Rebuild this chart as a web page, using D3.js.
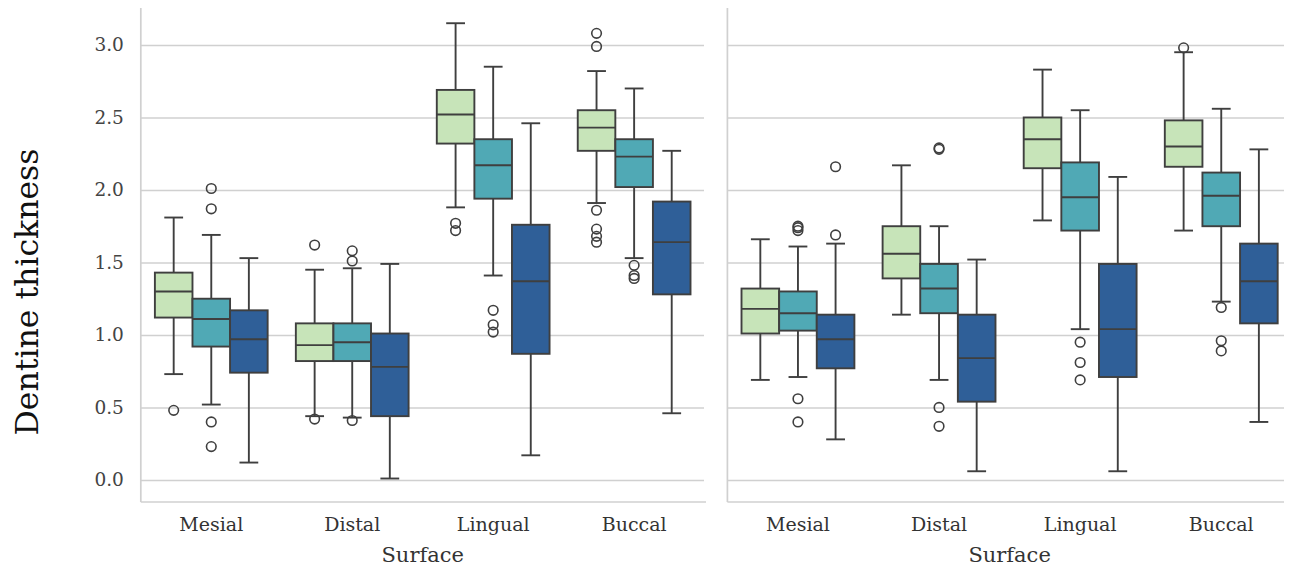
<!DOCTYPE html>
<html>
<head>
<meta charset="utf-8">
<script src="https://cdn.jsdelivr.net/npm/d3@7"></script>
<style>
  body { margin: 0; background: #fff; }
  svg text { font-family: "DejaVu Serif", "Liberation Serif", serif; }
</style>
</head>
<body>
<script>
// categories on the x axis and the three hue levels inside each group
var surfaces = ["Mesial", "Distal", "Lingual", "Buccal"];
var levels = ["1", "2", "3"];
var yTicks = [0, 0.5, 1.0, 1.5, 2.0, 2.5, 3.0];

// box stats per surface x level: [whisker low, q1, median, q3, whisker high]
var leftBoxes = [
    [0.73, 1.12, 1.30, 1.43, 1.81], [0.52, 0.92, 1.11, 1.25, 1.69], [0.12, 0.74, 0.97, 1.17, 1.53],
    [0.44, 0.82, 0.93, 1.08, 1.45], [0.43, 0.82, 0.95, 1.08, 1.46], [0.01, 0.44, 0.78, 1.01, 1.49],
    [1.88, 2.32, 2.52, 2.69, 3.15], [1.41, 1.94, 2.17, 2.35, 2.85], [0.17, 0.87, 1.37, 1.76, 2.46],
    [1.91, 2.27, 2.43, 2.55, 2.82], [1.53, 2.02, 2.23, 2.35, 2.70], [0.46, 1.28, 1.64, 1.92, 2.27]
];
var leftOutliers = [
    [0.48], [2.01, 1.87, 0.40, 0.23], [],
    [1.62, 0.42], [1.58, 1.51, 0.41], [],
    [1.77, 1.72], [1.17, 1.07, 1.02], [],
    [3.08, 2.99, 1.86, 1.73, 1.68, 1.64], [1.48, 1.41, 1.39], []
];
var rightBoxes = [
    [0.69, 1.01, 1.18, 1.32, 1.66], [0.71, 1.03, 1.15, 1.30, 1.61], [0.28, 0.77, 0.97, 1.14, 1.63],
    [1.14, 1.39, 1.56, 1.75, 2.17], [0.69, 1.15, 1.32, 1.49, 1.75], [0.06, 0.54, 0.84, 1.14, 1.52],
    [1.79, 2.15, 2.35, 2.50, 2.83], [1.04, 1.72, 1.95, 2.19, 2.55], [0.06, 0.71, 1.04, 1.49, 2.09],
    [1.72, 2.16, 2.30, 2.48, 2.95], [1.23, 1.75, 1.96, 2.12, 2.56], [0.40, 1.08, 1.37, 1.63, 2.28]
];
var rightOutliers = [
    [], [1.75, 1.74, 1.72, 0.56, 0.40], [2.16, 1.69],
    [], [2.29, 2.28, 0.50, 0.37], [],
    [], [0.95, 0.81, 0.69], [],
    [2.98], [1.19, 0.96, 0.89], []
];
var colors = ["#c7e4b9", "#50a9b5", "#2f5f98"];

var w = 1292, h = 571;
var topY = 8, bottomY = 502;
var ink = "#3f3f3f", gridColor = "#d0d0d0";

var svg = d3.select("body").append("svg")
    .attr("width", w)
    .attr("height", h);

var yScale = d3.scaleLinear()
    .domain([-0.152, 3.255])
    .range([bottomY, topY]);

var panels = [
    { x0: 140.8, x1: 704.6, gridEnd: 704, spineEnd: 706, boxes: leftBoxes, outliers: leftOutliers, labels: true },
    { x0: 727.4, x1: 1291.8, gridEnd: 1284, spineEnd: 1284, boxes: rightBoxes, outliers: rightOutliers, labels: false }
];

panels.forEach(function(p) {
    var xScale = d3.scaleBand().domain(surfaces).range([p.x0, p.x1]);
    var inner = d3.scaleBand().domain(levels)
        .range([xScale.bandwidth() * 0.1, xScale.bandwidth() * 0.9]);
    var g = svg.append("g");

    // horizontal gridlines
    var yAxis = d3.axisLeft(yScale)
        .tickValues(yTicks)
        .tickSize(p.x0 - p.gridEnd)
        .tickPadding(17)
        .tickFormat(p.labels ? d3.format(".1f") : "");
    var ga = g.append("g")
        .attr("transform", "translate(" + p.x0 + ",0)")
        .call(yAxis);
    ga.select(".domain").remove();
    ga.selectAll(".tick line").attr("stroke", gridColor).attr("stroke-width", 1.4);
    ga.selectAll(".tick text")
        .attr("fill", "#444")
        .style("font-size", "18.5px");

    // spines
    g.append("line").attr("x1", p.x0).attr("x2", p.x0).attr("y1", topY).attr("y2", bottomY)
        .attr("stroke", gridColor).attr("stroke-width", 1.7);
    g.append("line").attr("x1", p.x0).attr("x2", p.spineEnd).attr("y1", bottomY).attr("y2", bottomY)
        .attr("stroke", gridColor).attr("stroke-width", 1.7);

    // x axis labels
    var xAxis = d3.axisBottom(xScale).tickSize(0).tickPadding(16);
    var gx = g.append("g")
        .attr("transform", "translate(0," + bottomY + ")")
        .call(xAxis);
    gx.select(".domain").remove();
    gx.selectAll(".tick text")
        .attr("fill", "#333")
        .style("font-size", "19px");

    g.append("text")
        .attr("x", (p.x0 + p.x1) / 2)
        .attr("y", 562)
        .attr("text-anchor", "middle")
        .attr("fill", "#333")
        .style("font-size", "21px")
        .text("Surface");

    // boxes
    var items = [];
    surfaces.forEach(function(s, i) {
        levels.forEach(function(l, j) {
            var k = i * 3 + j;
            items.push({ s: s, l: l, c: colors[j], b: p.boxes[k], o: p.outliers[k] });
        });
    });

    var bw = inner.bandwidth();
    var sw = 1.9;
    var box = g.selectAll("g.box").data(items).enter().append("g").attr("class", "box")
        .attr("transform", function(d) { return "translate(" + (xScale(d.s) + inner(d.l)) + ",0)"; });

    // whiskers
    box.append("line")
        .attr("x1", bw / 2).attr("x2", bw / 2)
        .attr("y1", function(d) { return yScale(d.b[0]); })
        .attr("y2", function(d) { return yScale(d.b[1]); })
        .attr("stroke", ink).attr("stroke-width", sw);
    box.append("line")
        .attr("x1", bw / 2).attr("x2", bw / 2)
        .attr("y1", function(d) { return yScale(d.b[3]); })
        .attr("y2", function(d) { return yScale(d.b[4]); })
        .attr("stroke", ink).attr("stroke-width", sw);
    // caps
    [0, 4].forEach(function(idx) {
        box.append("line")
            .attr("x1", bw / 4).attr("x2", bw * 3 / 4)
            .attr("y1", function(d) { return yScale(d.b[idx]); })
            .attr("y2", function(d) { return yScale(d.b[idx]); })
            .attr("stroke", ink).attr("stroke-width", sw);
    });
    box.append("rect")
        .attr("x", 0).attr("width", bw)
        .attr("y", function(d) { return yScale(d.b[3]); })
        .attr("height", function(d) { return yScale(d.b[1]) - yScale(d.b[3]); })
        .attr("fill", function(d) { return d.c; })
        .attr("stroke", ink).attr("stroke-width", sw);
    box.append("line")
        .attr("x1", 0).attr("x2", bw)
        .attr("y1", function(d) { return yScale(d.b[2]); })
        .attr("y2", function(d) { return yScale(d.b[2]); })
        .attr("stroke", ink).attr("stroke-width", sw);
    box.selectAll("circle").data(function(d) { return d.o; }).enter().append("circle")
        .attr("cx", bw / 2)
        .attr("cy", function(v) { return yScale(v); })
        .attr("r", 4.8)
        .attr("fill", "none")
        .attr("stroke", ink).attr("stroke-width", 1.6);
});

svg.append("text")
    .attr("transform", "translate(38," + 292 + ") rotate(-90)")
    .attr("text-anchor", "middle")
    .attr("fill", "#111")
    .style("font-size", "31.5px")
    .text("Dentine thickness");
</script>
</body>
</html>
